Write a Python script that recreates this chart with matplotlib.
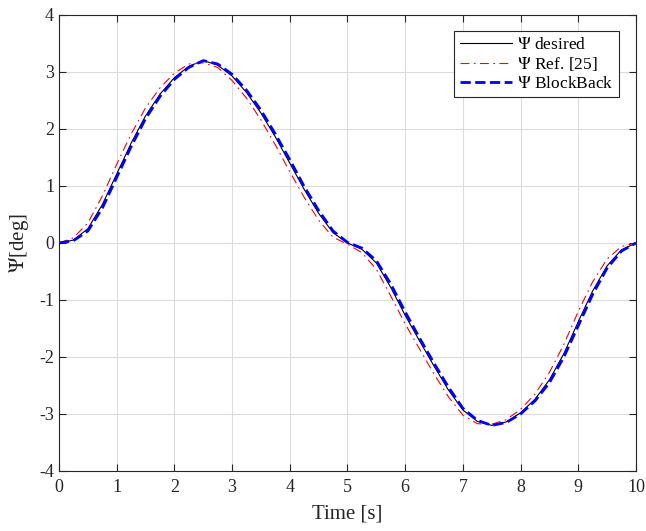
import numpy as np
import matplotlib
matplotlib.use("Agg")
from matplotlib import pyplot as plt

# time grid and values
t = np.arange(0, 10.01, 0.25)

psi_desired = [0.0, 0.05, 0.25, 0.67, 1.21, 1.75, 2.23, 2.61, 2.90, 3.10,
               3.20, 3.12, 2.93, 2.64, 2.28, 1.86, 1.40, 0.94, 0.52, 0.18,
               0.0, -0.11, -0.35, -0.78, -1.27, -1.72, -2.16, -2.58, -2.93, -3.13,
               -3.20, -3.14, -2.98, -2.74, -2.40, -1.94, -1.38, -0.84, -0.40, -0.12,
               0.0]

psi_ref25 = [0.0, 0.09, 0.35, 0.82, 1.38, 1.91, 2.37, 2.72, 2.98, 3.14,
             3.16, 3.08, 2.85, 2.54, 2.16, 1.72, 1.25, 0.80, 0.40, 0.10,
             -0.02, -0.17, -0.46, -0.93, -1.42, -1.86, -2.30, -2.70, -3.02, -3.17,
             -3.18, -3.10, -2.92, -2.65, -2.27, -1.78, -1.20, -0.68, -0.28, -0.06,
             0.0]

psi_blockback = [0.0, 0.04, 0.21, 0.61, 1.15, 1.69, 2.18, 2.57, 2.87, 3.08,
                 3.20, 3.14, 2.96, 2.68, 2.33, 1.91, 1.46, 0.99, 0.57, 0.21,
                 0.01, -0.09, -0.31, -0.72, -1.21, -1.67, -2.11, -2.53, -2.90, -3.11,
                 -3.20, -3.15, -3.00, -2.77, -2.45, -2.00, -1.45, -0.90, -0.44, -0.14,
                 0.0]

plt.rcParams["font.family"] = ["Liberation Serif", "DejaVu Serif"]
plt.rcParams["mathtext.fontset"] = "stix"
plt.rcParams["axes.unicode_minus"] = False

fig = plt.figure(figsize=(6.46, 5.31), dpi=100)
ax = fig.add_axes([0.0913, 0.113, 0.8932, 0.8588])

ax.plot(t, psi_desired, color="black", lw=0.8, label=r"$\Psi$ desired")
ax.plot(t, psi_ref25, color="red", lw=0.8, dashes=(8, 4, 1.5, 4),
        label=r"$\Psi$ Ref. [25]")
ax.plot(t, psi_blockback, color="blue", lw=2.0, ls="--",
        label=r"$\Psi$ BlockBack")

ax.set_xlim(0, 10)
ax.set_ylim(-4, 4)
ax.set_xticks(range(0, 11))
ax.set_yticks(range(-4, 5))
ax.grid(True, color="#dcdcdc", lw=0.8)
ax.set_axisbelow(True)
ax.tick_params(direction="in", length=5, width=0.8, labelsize=13,
               top=True, right=True, colors="#262626")
ax.tick_params(axis="x", pad=6)
for sp in ax.spines.values():
    sp.set_color("#262626")
    sp.set_linewidth(0.8)

ax.set_xlabel("Time [s]", fontsize=15, color="#262626", labelpad=6)
ax.set_ylabel(r"$\mathit{\Psi}$[deg]", fontsize=15, color="#262626", labelpad=6)

leg = ax.legend(loc="upper right", bbox_to_anchor=(0.985, 0.983), fontsize=12.5,
                fancybox=False, framealpha=1, edgecolor="#262626",
                handlelength=3.0, handletextpad=0.3, borderpad=0.3,
                labelspacing=0.15)
leg.get_frame().set_linewidth(0.8)

fig.savefig("out.png", dpi=100)
